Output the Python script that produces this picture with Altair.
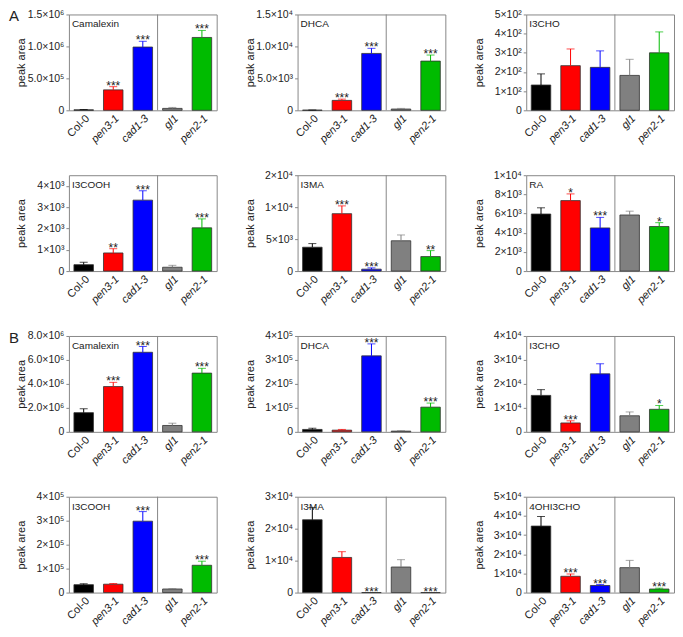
import altair as alt
import pandas as pd

GENOTYPES = ["Col-0", "pen3-1", "cad1-3", "gl1", "pen2-1"]
COLORS = ["#000000", "#ff0000", "#0000ff", "#808080", "#00bb00"]

# ---- Panel A ----
A_CAM_MEAN = [8e3, 3.2e5, 0.99e6, 3.0e4, 1.14e6]
A_CAM_ERR = [3e3, 0.5e5, 0.09e6, 1.5e4, 0.11e6]
A_CAM_SIG = ["", "***", "***", "", "***"]
A_CAM_TICKS = [0, 5e5, 1e6, 1.5e6]
A_CAM_LABELS = ["0", "5.0×10⁵", "1.0×10⁶", "1.5×10⁶"]

A_DHCA_MEAN = [30, 1550, 8900, 200, 7700]
A_DHCA_ERR = [20, 200, 800, 100, 950]
A_DHCA_SIG = ["", "***", "***", "", "***"]
A_DHCA_TICKS = [0, 5e3, 1e4, 1.5e4]
A_DHCA_LABELS = ["0", "5.0×10³", "1.0×10⁴", "1.5×10⁴"]

A_I3CHO_MEAN = [132, 233, 224, 182, 300]
A_I3CHO_ERR = [58, 87, 86, 84, 109]
A_I3CHO_SIG = ["", "", "", "", ""]
A_I3CHO_TICKS = [0, 100, 200, 300, 400, 500]
A_I3CHO_LABELS = ["0", "1×10²", "2×10²", "3×10²", "4×10²", "5×10²"]

A_I3COOH_MEAN = [300, 850, 3330, 180, 2030]
A_I3COOH_ERR = [110, 200, 440, 90, 420]
A_I3COOH_SIG = ["", "**", "***", "", "***"]
A_I3COOH_TICKS = [0, 1e3, 2e3, 3e3, 4e3]
A_I3COOH_LABELS = ["0", "1×10³", "2×10³", "3×10³", "4×10³"]

A_I3MA_MEAN = [3730, 8980, 300, 4740, 2270]
A_I3MA_ERR = [570, 1220, 200, 910, 930]
A_I3MA_SIG = ["", "***", "***", "", "**"]
A_I3MA_TICKS = [0, 5e3, 1e4, 1.5e4]
A_I3MA_LABELS = ["0", "5×10³", "1×10⁴", "2×10⁴"]

A_RA_MEAN = [5950, 7350, 4500, 5850, 4650]
A_RA_ERR = [650, 700, 1100, 400, 400]
A_RA_SIG = ["", "*", "***", "", "*"]
A_RA_TICKS = [0, 2e3, 4e3, 6e3, 8e3, 1e4]
A_RA_LABELS = ["0", "2×10³", "4×10³", "6×10³", "8×10³", "1×10⁴"]

# ---- Panel B ----
B_CAM_MEAN = [1.6e6, 3.78e6, 6.64e6, 0.53e6, 4.9e6]
B_CAM_ERR = [0.32e6, 0.35e6, 0.48e6, 0.19e6, 0.4e6]
B_CAM_SIG = ["", "***", "***", "", "***"]
B_CAM_TICKS = [0, 2e6, 4e6, 6e6, 8e6]
B_CAM_LABELS = ["0", "2.0×10⁶", "4.0×10⁶", "6.0×10⁶", "8.0×10⁶"]

B_DHCA_MEAN = [1.0e4, 7e3, 3.17e5, 3e3, 1.03e5]
B_DHCA_ERR = [5e3, 3e3, 0.5e5, 2e3, 1.7e4]
B_DHCA_SIG = ["", "", "***", "", "***"]
B_DHCA_TICKS = [0, 1e5, 2e5, 3e5, 4e5]
B_DHCA_LABELS = ["0", "1×10⁵", "2×10⁵", "3×10⁵", "4×10⁵"]

B_I3CHO_MEAN = [1.52e4, 3.7e3, 2.42e4, 6.7e3, 9.4e3]
B_I3CHO_ERR = [2.4e3, 0.9e3, 4.2e3, 1.6e3, 1.6e3]
B_I3CHO_SIG = ["", "***", "", "", "*"]
B_I3CHO_TICKS = [0, 1e4, 2e4, 3e4, 4e4]
B_I3CHO_LABELS = ["0", "1×10⁴", "2×10⁴", "3×10⁴", "4×10⁴"]

B_I3COOH_MEAN = [3.3e4, 3.5e4, 2.98e5, 1.5e4, 1.14e5]
B_I3COOH_ERR = [4e3, 3e3, 4e4, 2e3, 1.7e4]
B_I3COOH_SIG = ["", "", "***", "", "***"]
B_I3COOH_TICKS = [0, 1e5, 2e5, 3e5, 4e5]
B_I3COOH_LABELS = ["0", "1×10⁵", "2×10⁵", "3×10⁵", "4×10⁵"]

B_I3MA_MEAN = [2.28e4, 1.1e4, 0, 8.0e3, 0]
B_I3MA_ERR = [3.8e3, 1.8e3, 0, 2.3e3, 0]
B_I3MA_SIG = ["", "", "***", "", "***"]
B_I3MA_TICKS = [0, 1e4, 2e4, 3e4]
B_I3MA_LABELS = ["0", "1×10⁴", "2×10⁴", "3×10⁴"]

B_4OH_MEAN = [3.47e4, 8.5e3, 3.7e3, 1.3e4, 1.85e3]
B_4OH_ERR = [5e3, 1.2e3, 0.5e3, 3.8e3, 0.45e3]
B_4OH_SIG = ["", "***", "***", "", "***"]
B_4OH_TICKS = [0, 1e4, 2e4, 3e4, 4e4, 5e4]
B_4OH_LABELS = ["0", "1×10⁴", "2×10⁴", "3×10⁴", "4×10⁴", "5×10⁴"]

W, H = 148, 96
FONT = "Liberation Sans"


def label_expr(ticks, labels):
    s = ""
    for t, l in zip(ticks, labels):
        s += f"datum.value == {t} ? '{l}' : "
    return s + "''"


def panel(title, mean, err, sig, ymax, ticks, labels, letter=None):
    df = pd.DataFrame({"g": GENOTYPES, "mean": mean, "err": err, "sig": sig})
    base = alt.Chart(df).transform_calculate(top="datum.mean + datum.err")
    xscale = alt.Scale(domain=GENOTYPES, paddingInner=0.34, paddingOuter=0.17)
    yscale = alt.Scale(domain=[0, ymax], nice=False, zero=True)
    color = alt.Color("g:N", scale=alt.Scale(domain=GENOTYPES, range=COLORS), legend=None)
    x_axis = alt.Axis(
        labelAngle=-45, labelFontSize=11, labelPadding=2, ticks=False, domain=False,
        labelFontStyle={"condition": {"test": "datum.value == 'Col-0'", "value": "normal"}, "value": "italic"},
    )
    y_axis = alt.Axis(
        values=ticks, labelExpr=label_expr(ticks, labels), labelFontSize=10.5,
        labelPadding=2, tickSize=3, tickColor="#888", domain=False, grid=False,
        minExtent=40, maxExtent=40, titlePadding=2, titleFontSize=11,
        titleFontWeight="normal",
    )
    xe = alt.X("g:N", scale=xscale, axis=x_axis, title=None)

    def ye(field):
        return alt.Y(field, scale=yscale, axis=y_axis, title="peak area")

    bars = base.mark_bar(stroke="#333", strokeWidth=0.8).encode(
        x=xe, y=ye("mean:Q"), color=color,
    )
    errs = base.mark_rule(strokeWidth=1).encode(
        x=xe, y=ye("mean:Q"), y2="top:Q", color=color
    )
    caps = base.transform_filter("datum.err > 0").mark_tick(size=8, thickness=1).encode(
        x=xe, y=ye("top:Q"), color=color
    )
    stars = base.mark_text(fontSize=12, baseline="alphabetic", dy=3, color="#222").encode(
        x=xe, y=ye("top:Q"), text="sig:N"
    )
    divider = alt.Chart(pd.DataFrame({"t": [0]})).mark_rule(color="#888", strokeWidth=1).encode(
        x=alt.value(W * 3 / 5), y=alt.value(0), y2=alt.value(H)
    )
    ttl = alt.Chart(pd.DataFrame({"t": [title]})).mark_text(
        align="left", baseline="top", fontSize=10, color="#222"
    ).encode(x=alt.value(3), y=alt.value(5), text="t:N")
    layers = [bars, errs, caps, stars, divider, ttl]
    if letter:
        let = alt.Chart(pd.DataFrame({"t": [letter]})).mark_text(
            align="left", baseline="top", fontSize=15, color="#222"
        ).encode(x=alt.value(-60), y=alt.value(-5), text="t:N")
        layers.append(let)
    return alt.layer(*layers).properties(width=W, height=H)


panels = [
    panel("Camalexin", A_CAM_MEAN, A_CAM_ERR, A_CAM_SIG, 1.5e6, A_CAM_TICKS, A_CAM_LABELS, "A"),
    panel("DHCA", A_DHCA_MEAN, A_DHCA_ERR, A_DHCA_SIG, 1.5e4, A_DHCA_TICKS, A_DHCA_LABELS),
    panel("I3CHO", A_I3CHO_MEAN, A_I3CHO_ERR, A_I3CHO_SIG, 500, A_I3CHO_TICKS, A_I3CHO_LABELS),
    panel("I3COOH", A_I3COOH_MEAN, A_I3COOH_ERR, A_I3COOH_SIG, 4500, A_I3COOH_TICKS, A_I3COOH_LABELS),
    panel("I3MA", A_I3MA_MEAN, A_I3MA_ERR, A_I3MA_SIG, 1.5e4, A_I3MA_TICKS, A_I3MA_LABELS),
    panel("RA", A_RA_MEAN, A_RA_ERR, A_RA_SIG, 1e4, A_RA_TICKS, A_RA_LABELS),
    panel("Camalexin", B_CAM_MEAN, B_CAM_ERR, B_CAM_SIG, 8e6, B_CAM_TICKS, B_CAM_LABELS, "B"),
    panel("DHCA", B_DHCA_MEAN, B_DHCA_ERR, B_DHCA_SIG, 4e5, B_DHCA_TICKS, B_DHCA_LABELS),
    panel("I3CHO", B_I3CHO_MEAN, B_I3CHO_ERR, B_I3CHO_SIG, 4e4, B_I3CHO_TICKS, B_I3CHO_LABELS),
    panel("I3COOH", B_I3COOH_MEAN, B_I3COOH_ERR, B_I3COOH_SIG, 4e5, B_I3COOH_TICKS, B_I3COOH_LABELS),
    panel("I3MA", B_I3MA_MEAN, B_I3MA_ERR, B_I3MA_SIG, 3e4, B_I3MA_TICKS, B_I3MA_LABELS),
    panel("4OHI3CHO", B_4OH_MEAN, B_4OH_ERR, B_4OH_SIG, 5e4, B_4OH_TICKS, B_4OH_LABELS),
]

chart = alt.concat(*panels, columns=3, spacing={"row": 65, "column": 81}).properties(
    bounds="flush", padding=0
).configure_view(stroke="#888", strokeWidth=1).configure_axis(
    labelFont=FONT, titleFont=FONT, labelColor="#222", titleColor="#222"
).configure_text(font=FONT)

chart.save("out.html", embed_options={"renderer": "svg", "actions": False})
